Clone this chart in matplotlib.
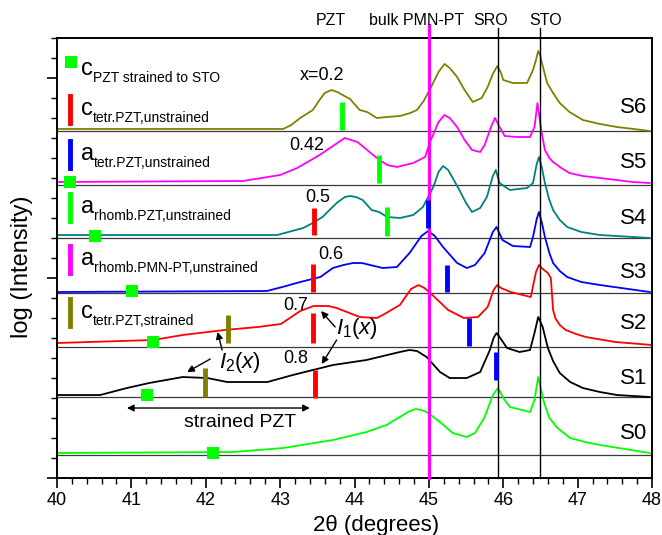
import matplotlib
matplotlib.use('Agg')
import matplotlib.pyplot as plt
from matplotlib.ticker import MultipleLocator, NullFormatter

plt.rcParams['font.family'] = ['Liberation Sans', 'DejaVu Sans']
plt.rcParams['mathtext.fontset'] = 'custom'
plt.rcParams['mathtext.rm'] = 'Liberation Sans'
plt.rcParams['mathtext.it'] = 'Liberation Sans:italic'

# XRD scans (2theta in degrees, log intensity in arbitrary offset units)
tth_s6 = [40.0, 43.04, 43.15, 43.27, 43.44, 43.53, 43.60, 43.69, 43.77, 43.84, 43.94, 44.07, 44.17, 44.30,
          44.44, 44.61, 44.75, 44.84, 44.93, 45.01, 45.13, 45.21, 45.28, 45.38, 45.48, 45.59, 45.71, 45.79,
          45.86, 45.92, 45.97, 46.00, 46.13, 46.32, 46.40, 46.44, 46.47, 46.50, 46.52, 46.59, 46.67, 46.76,
          46.89, 47.07, 47.30, 47.53, 47.97]
int_s6 = [349, 349, 353, 360, 368, 378, 385, 388, 386, 383, 379, 368, 366, 360,
          361, 362, 365, 368, 377, 388, 406, 414, 410, 401, 388, 376, 380, 391,
          404, 412, 405, 398, 395, 395, 408, 418, 427, 422, 415, 395, 385, 375,
          366, 358, 354, 351, 347]

tth_s5 = [40.0, 42.50, 43.00, 43.23, 43.37, 43.53, 43.77, 43.87, 44.04, 44.17, 44.30, 44.44, 44.57, 44.79,
          44.95, 45.01, 45.13, 45.21, 45.28, 45.38, 45.48, 45.58, 45.69, 45.75, 45.84, 45.89, 45.95, 46.02,
          46.18, 46.36, 46.42, 46.46, 46.51, 46.56, 46.62, 46.67, 46.78, 46.89, 47.07, 47.30, 47.74, 47.97]
int_s5 = [296, 297, 303, 310, 316, 323, 335, 340, 336, 328, 320, 313, 311, 315,
          321, 335, 356, 363, 360, 351, 338, 328, 326, 333, 352, 360, 351, 342,
          341, 341, 351, 375, 348, 328, 320, 316, 310, 305, 302, 300, 296, 295]

tth_s4 = [40.0, 42.96, 43.31, 43.44, 43.57, 43.76, 43.87, 43.94, 44.02, 44.11, 44.23, 44.33, 44.44, 44.61,
          44.79, 44.92, 45.06, 45.13, 45.19, 45.26, 45.41, 45.50, 45.58, 45.69, 45.78, 45.86, 45.90, 45.95,
          46.09, 46.32, 46.40, 46.45, 46.48, 46.52, 46.56, 46.62, 46.67, 46.76, 46.86, 47.05, 47.30, 47.97]
int_s4 = [243, 243, 250, 255, 261, 275, 281, 282, 281, 278, 268, 266, 261, 260,
          263, 271, 291, 306, 312, 308, 288, 275, 266, 270, 281, 302, 308, 295,
          288, 290, 295, 314, 321, 310, 295, 278, 268, 258, 251, 246, 243, 240]

tth_s3 = [40.0, 42.82, 43.03, 43.27, 43.54, 43.71, 43.85, 43.98, 44.10, 44.21, 44.38, 44.57, 44.74, 44.90,
          44.99, 45.08, 45.19, 45.38, 45.51, 45.62, 45.75, 45.86, 45.91, 45.99, 46.13, 46.36, 46.40, 46.45,
          46.48, 46.52, 46.56, 46.62, 46.67, 46.76, 46.86, 47.05, 47.30, 47.97]
int_s3 = [186, 187, 191, 196, 201, 210, 213, 215, 215, 213, 210, 211, 225, 242,
          247, 242, 231, 215, 210, 213, 225, 246, 251, 238, 232, 231, 241, 259,
          266, 255, 241, 225, 215, 207, 201, 196, 193, 186]

tth_s2 = [40.0, 41.29, 41.69, 42.25, 42.70, 43.01, 43.27, 43.45, 43.54, 43.65, 43.76, 44.07, 44.30, 44.38,
          44.61, 44.76, 44.86, 44.94, 45.02, 45.26, 45.47, 45.66, 45.79, 45.87, 45.92, 45.97, 46.10, 46.37,
          46.44, 46.48, 46.53, 46.60, 46.64, 46.67, 46.70, 46.76, 46.84, 46.98, 47.11, 47.51, 48.0]
int_s2 = [135, 138, 143, 148, 151, 154, 167, 172, 172, 172, 170, 161, 160, 163,
          173, 189, 193, 190, 185, 168, 160, 161, 171, 188, 193, 190, 186, 181,
          206, 213, 209, 205, 200, 168, 160, 153, 148, 144, 141, 136, 133]

tth_s1 = [40.0, 40.58, 40.94, 41.24, 41.69, 42.02, 42.29, 42.83, 43.17, 43.44, 43.71, 44.16, 44.61, 44.67,
          44.74, 44.84, 44.97, 45.15, 45.28, 45.51, 45.69, 45.82, 45.87, 45.91, 45.96, 46.05, 46.22, 46.36,
          46.42, 46.47, 46.53, 46.60, 46.67, 46.76, 46.90, 47.07, 47.30, 47.53, 47.97]
int_s1 = [83, 83, 90, 95, 101, 100, 96, 96, 103, 108, 113, 118, 126, 127,
          128, 127, 121, 106, 100, 100, 106, 128, 140, 145, 140, 130, 126, 128,
          145, 161, 151, 130, 117, 105, 96, 90, 86, 83, 81]

tth_s0 = [40.0, 42.37, 43.04, 43.71, 44.16, 44.43, 44.61, 44.72, 44.82, 44.90, 44.97, 45.15, 45.32, 45.51,
          45.62, 45.75, 45.86, 45.93, 46.00, 46.09, 46.36, 46.42, 46.47, 46.55, 46.62, 46.73, 46.90, 47.10,
          47.30, 47.97]
int_s0 = [25, 26, 30, 38, 46, 53, 61, 66, 69, 68, 66, 56, 45, 41,
          45, 61, 83, 90, 80, 71, 66, 78, 101, 75, 60, 50, 40, 36,
          33, 25]

scans = [(tth_s0, int_s0), (tth_s1, int_s1), (tth_s2, int_s2), (tth_s3, int_s3),
         (tth_s4, int_s4), (tth_s5, int_s5), (tth_s6, int_s6)]
sample_names = ['S0', 'S1', 'S2', 'S3', 'S4', 'S5', 'S6']
scan_colors = ['#00ff00', 'black', 'red', 'blue', '#008080', 'magenta', '#808000']
base_levels = [23, 81, 131, 185, 240, 293, 347]
name_levels = [45, 100, 155, 206, 260, 315, 370]

# composition labels x
comp_labels = ['x=0.2', '0.42', '0.5', '0.6', '0.7', '0.8']
comp_tth = [43.56, 43.36, 43.50, 43.68, 43.21, 43.21]
comp_y = [402, 332, 280, 224, 173, 120]

# reference peaks (bulk PMN-PT, SRO, STO)
ref_names = ['PZT', 'bulk PMN-PT', 'SRO', 'STO']
ref_label_tth = [43.68, 44.83, 45.83, 46.57]
pmnpt_tth = 45.0
sro_tth = 45.93
sto_tth = 46.49

# expected peak positions: vertical bars (2theta, bottom, top, colour)
bar_tth = [43.83, 44.33, 43.45, 44.44, 44.99, 43.44, 45.24, 43.44, 45.54, 42.30, 43.47, 45.90, 41.99]
bar_lo = [348, 295, 243, 242, 250, 186, 186, 135, 132, 135, 80, 98, 81]
bar_hi = [376, 323, 270, 271, 278, 214, 213, 165, 160, 163, 108, 126, 110]
bar_col = ['#00ff00', '#00ff00', 'red', '#00ff00', 'blue', 'red', 'blue', 'red', 'blue',
           '#808000', 'red', 'blue', '#808000']

# c of PZT strained to STO: squares
sq_tth = [40.17, 40.51, 41.01, 41.29, 41.21, 42.10]
sq_y = [296, 242, 187, 136, 83, 25]

# legend entries
leg_main = ['c', 'c', 'a', 'a', 'a', 'c']
leg_sub = ['PZT strained to STO', 'tetr.PZT,unstrained', 'tetr.PZT,unstrained',
           'rhomb.PZT,unstrained', 'rhomb.PMN-PT,unstrained', 'tetr.PZT,strained']
leg_col = ['#00ff00', 'red', 'blue', '#00ff00', 'magenta', '#808000']
leg_y = [403, 363, 318, 265, 213, 160]

fig = plt.figure(figsize=(6.62, 5.35), dpi=100)
ax = fig.add_axes([0.0861, 0.1065, 0.8988, 0.8225])

for lvl in base_levels:
    ax.axhline(lvl, color='#3a3a3a', lw=0.9, zorder=1)

for (tth, inten), col in zip(scans, scan_colors):
    ax.plot(tth, inten, color=col, lw=1.3, zorder=2)

for name, lvl in zip(sample_names, name_levels):
    ax.text(47.94, lvl, name, fontsize=16, ha='right', va='center')

# reference lines, extended above the frame
ax.plot([pmnpt_tth, pmnpt_tth], [0, 453], color='magenta', lw=2.3, clip_on=False, zorder=3)
ax.plot([sro_tth, sro_tth], [0, 450], color='black', lw=1.0, clip_on=False, zorder=3)
ax.plot([sto_tth, sto_tth], [0, 450], color='black', lw=1.0, clip_on=False, zorder=3)
for name, t in zip(ref_names, ref_label_tth):
    ax.text(t, 457, name, fontsize=11.5, ha='center', va='center', clip_on=False)

for t, lo, hi, c in zip(bar_tth, bar_lo, bar_hi, bar_col):
    ax.plot([t, t], [lo, hi], color=c, lw=3.5, solid_capstyle='butt', zorder=4)
ax.plot(sq_tth, sq_y, 's', color='#00ff00', ms=8, mew=0, zorder=4)

for lab, t, y in zip(comp_labels, comp_tth, comp_y):
    ax.text(t, y, lab, fontsize=13, ha='center', va='center')

# legend on the left
ax.plot([40.19], [416], 's', color=leg_col[0], ms=8, mew=0)
for i in range(len(leg_main)):
    if i > 0:
        ax.plot([40.17, 40.17], [leg_y[i] - 8, leg_y[i] + 19], color=leg_col[i], lw=3.5)
    ax.text(40.32, leg_y[i], leg_main[i], fontsize=17, va='baseline', ha='left')
    w = 8.6 if leg_main[i] == 'c' else 9.4
    ax.annotate(leg_sub[i], xy=(40.32, leg_y[i]), xytext=(w, -5), textcoords='offset points',
                fontsize=10, va='baseline', ha='left')

# I1(x), I2(x) annotations
arrow = dict(arrowstyle='-|>', color='black', lw=1.0, mutation_scale=10, shrinkA=0, shrinkB=0)
ax.text(44.03, 150, r'$I_1(x)$', fontsize=16, ha='center', va='center')
ax.annotate('', xy=(43.55, 167), xytext=(43.74, 151), arrowprops=arrow)
ax.annotate('', xy=(43.56, 114), xytext=(43.76, 138), arrowprops=arrow)
ax.text(42.46, 116, r'$I_2(x)$', fontsize=16, ha='center', va='center')
ax.annotate('', xy=(42.16, 146), xytext=(42.22, 128), arrowprops=arrow)
ax.annotate('', xy=(41.75, 106), xytext=(42.06, 119), arrowprops=arrow)

ax.annotate('', xy=(40.94, 70), xytext=(43.40, 70),
            arrowprops=dict(arrowstyle='<|-|>', color='black', lw=1.0, mutation_scale=10,
                            shrinkA=0, shrinkB=0))
ax.text(42.46, 56, 'strained PZT', fontsize=14, ha='center', va='center')

ax.set_xlim(40, 48)
ax.set_ylim(0, 440)
ax.xaxis.set_major_locator(MultipleLocator(1))
ax.xaxis.set_minor_locator(MultipleLocator(0.2))
ax.yaxis.set_major_locator(MultipleLocator(200))
ax.yaxis.set_minor_locator(MultipleLocator(20))
ax.yaxis.set_major_formatter(NullFormatter())
ax.tick_params(axis='both', which='major', direction='out', length=7, width=1.2, labelsize=13, pad=3)
ax.tick_params(axis='both', which='minor', direction='out', length=4, width=1.0)
ax.tick_params(top=False, right=False)
for sp in ax.spines.values():
    sp.set_linewidth(1.4)

ax.set_xlabel('2θ (degrees)', fontsize=16)
ax.xaxis.set_label_coords(0.536, -0.085)
ax.set_ylabel('log (Intensity)', fontsize=17)
ax.yaxis.set_label_coords(-0.04, 0.48)

fig.savefig('out.png', dpi=100)
